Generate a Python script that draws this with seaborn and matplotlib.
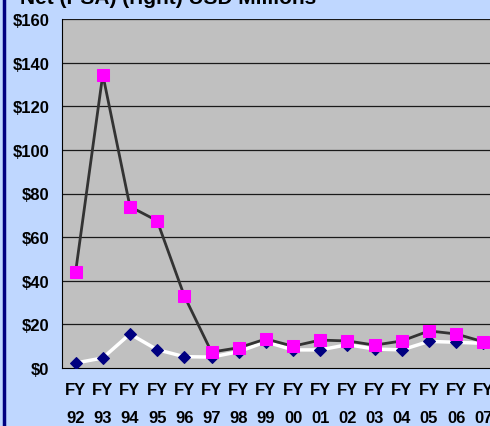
import numpy as np
import pandas as pd
import matplotlib
matplotlib.use("Agg")
import matplotlib.pyplot as plt
import seaborn as sns

# fiscal years shown on the category axis
years = ["92", "93", "94", "95", "96", "97", "98", "99",
         "00", "01", "02", "03", "04", "05", "06", "07"]

# magenta squares / dark line (USD millions)
psa_total = [44, 134.5, 74, 67.5, 33, 7.3, 9.3, 13.3, 10, 12.8,
             12.4, 10.5, 12.4, 17, 15.6, 12]
# navy diamonds / white line (USD millions)
psa_net = [2.3, 4.6, 15.6, 8.4, 5.2, 5, 7.5, 12, 8.3, 8.3,
           10.7, 8.7, 8.3, 12.2, 11.8, 11.3]

y_ticks = [0, 20, 40, 60, 80, 100, 120, 140, 160]

df = pd.DataFrame({"fy": ["FY\n" + y for y in years],
                   "total": psa_total, "net": psa_net})

sns.set_style("white")
plt.rcParams["font.family"] = ["Liberation Sans Narrow", "Liberation Sans", "DejaVu Sans"]
plt.rcParams["font.weight"] = "bold"
plt.rcParams["text.color"] = "black"
plt.rcParams["xtick.color"] = "black"
plt.rcParams["ytick.color"] = "black"

bg = "#BFD7FF"
fig = plt.figure(figsize=(4.9, 4.27), dpi=100, facecolor=bg)
ax = fig.add_axes([62 / 490, 1 - 369 / 427, 435 / 490, 349 / 427])
ax.set_facecolor("#C0C0C0")

# grid lines behind the data
for v in y_ticks[1:]:
    ax.axhline(v, color="#1a1a1a", lw=0.9, zorder=1)

sns.lineplot(data=df, x="fy", y="net", ax=ax, color="white", lw=2.5,
             marker="D", markersize=6, markerfacecolor="#000080",
             markeredgecolor="#000080", sort=False, zorder=3)
sns.lineplot(data=df, x="fy", y="total", ax=ax, color="#333333", lw=2,
             marker="s", markersize=8, markerfacecolor="#FF00FF",
             markeredgecolor="#FF00FF", sort=False, zorder=4)

ax.set_xlim(-0.5, len(years) - 0.5)
ax.set_ylim(0, 160)
ax.set_yticks(y_ticks)
ax.set_yticklabels(["$%d" % v for v in y_ticks], fontsize=12, fontweight="bold",
                   color="black")
ax.set_xticks(np.arange(len(years)))
ax.set_xticklabels(df["fy"], fontsize=12, fontweight="bold", linespacing=2.1,
                   color="black")
ax.set_xticks(np.arange(len(years)) + 0.5, minor=True)
ax.tick_params(axis="x", which="major", length=0, pad=10)
ax.tick_params(axis="x", which="minor", length=5, width=1, color="black", direction="out")
ax.tick_params(axis="y", length=5, width=1, color="black", direction="out", pad=4)
ax.set_xlabel("")
ax.set_ylabel("")

for side in ["top", "right"]:
    ax.spines[side].set_visible(False)
ax.spines["left"].set_color("black")
ax.spines["bottom"].set_color("black")
ax.spines["left"].set_zorder(5)

# cut-off title at the very top
fig.text(20 / 490, 1.004, "Net (PSA) (right) USD Millions", fontsize=15,
         fontweight="bold", family=["Liberation Sans", "DejaVu Sans"],
         color="black", va="center", ha="left")

# dark blue frame edge on the left
fig.add_artist(plt.Line2D([3.5 / 490, 3.5 / 490], [0, 1], color="#000080", lw=2.5,
                          transform=fig.transFigure))

fig.savefig("out.png", dpi=100, facecolor=bg)
